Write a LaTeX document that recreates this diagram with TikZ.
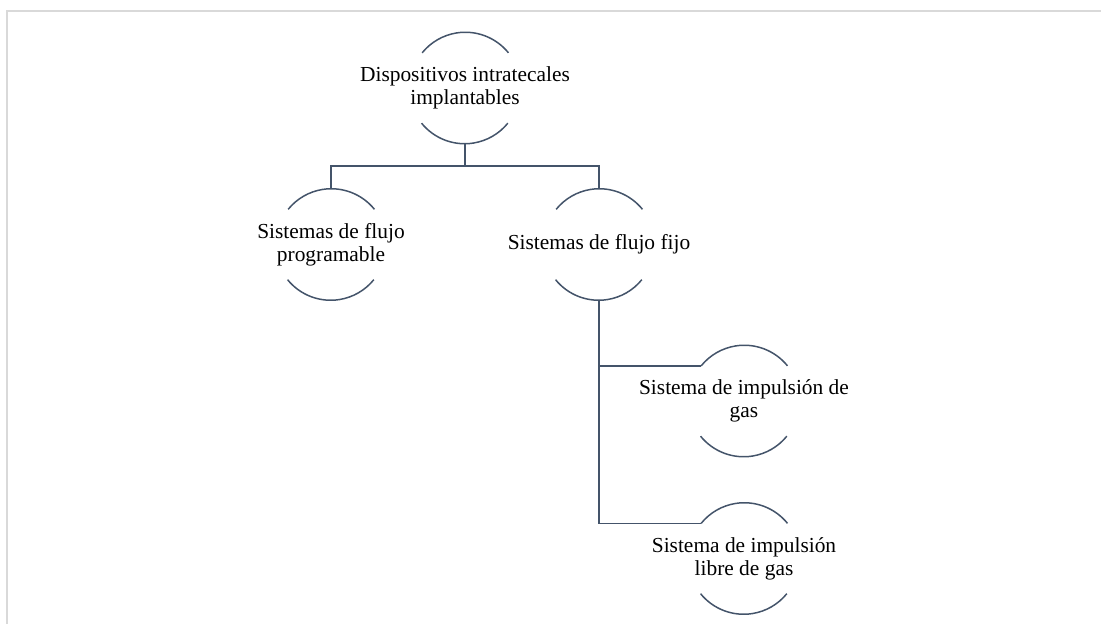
\documentclass[tikz,border=0pt]{standalone}
\usepackage{fontspec}
\setmainfont{Liberation Serif}
\definecolor{linea}{HTML}{44546A}
\definecolor{marco}{HTML}{D9D9D9}

\begin{document}
\begin{tikzpicture}[x=0.5pt, y=0.5pt]
                \useasboundingbox (0,0) rectangle (1101,-624);
                \draw[marco, line width=1pt] (7,-624) -- (7,-11) -- (1101,-11);
                \begin{scope}[every node/.style={circle, minimum size=55.5pt, inner sep=0}, texto/.style={rectangle, minimum size=0pt, align=center, font=\fontsize{10.7}{11.5}\selectfont}, rama/.style={draw=linea, line width=0.75pt}]
                        \node (D) at (465,-88) {};
                        \node (P) at (331,-244.5) {};
                        \node (F) at (599,-244.5) {};
                        \node (G) at (744,-401) {};
                        \node (L) at (744,-558.5) {};
                        \coordinate (J) at (465,-166);

                        \node [texto] (Dt) at (D) {Dispositivos intratecales\\implantables};
                        \node [texto] (Pt) at (P) {Sistemas de flujo\\programable};
                        \node [texto] (Ft) at (F) {Sistemas de flujo fijo};
                        \node [texto] (Gt) at (G) {Sistema de impulsión de\\gas};
                        \node [texto] (Lt) at (L) {Sistema de impulsión\\libre de gas};

                        \path[rama] (D.south) -- (J) -| (P.north);
                        \path[rama] (J) -| (F.north);
                        \path[rama] (F.south) |- (G.141);
                        \path[rama] (F.south) |- (L.141);

                        \foreach \n in {D,P,F,G,L} {
                                \path[rama] (\n.39) arc[start angle=39, end angle=141, radius=27.75pt];
                                \path[rama] (\n.219) arc[start angle=219, end angle=321, radius=27.75pt];
                        }
                \end{scope}
\end{tikzpicture}
\end{document}
